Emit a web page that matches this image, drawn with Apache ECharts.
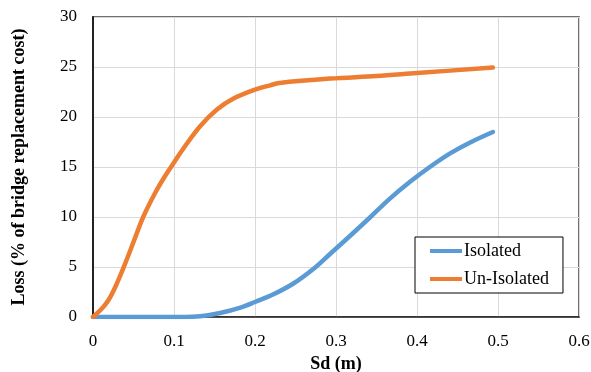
<!DOCTYPE html>
<html>
<head>
<meta charset="utf-8">
<script src="https://cdn.jsdelivr.net/npm/echarts@6/dist/echarts.min.js"></script>
<style>
html,body{margin:0;padding:0;background:#fff;}
#chart{width:591px;height:372px;}
</style>
</head>
<body>
<div id="chart"></div>
<script>
// Data
var seriesNames = ['Isolated', 'Un-Isolated'];
var xTicks = [0, 0.1, 0.2, 0.3, 0.4, 0.5, 0.6];
var yTicks = [0, 5, 10, 15, 20, 25, 30];

var sdIsolated   = [0, 0.108, 0.1325, 0.157, 0.182, 0.2, 0.2228, 0.2474, 0.272, 0.2926, 0.3172, 0.3419, 0.3665, 0.391, 0.4158, 0.4404, 0.465, 0.4937];
var lossIsolated = [0, 0, 0.07, 0.4, 0.94, 1.5, 2.27, 3.35, 4.8, 6.3, 8.1, 9.95, 11.84, 13.5, 15.0, 16.34, 17.43, 18.5];

var sdUnIsolated   = [0, 0.011, 0.019, 0.0275, 0.0377, 0.05, 0.062, 0.077, 0.089, 0.1, 0.112, 0.1325, 0.153, 0.1735, 0.2, 0.2187, 0.23, 0.2926, 0.35, 0.4, 0.4937];
var lossUnIsolated = [0, 0.84, 1.67, 3.0, 4.94, 7.5, 10.0, 12.45, 14.1, 15.45, 16.9, 19.1, 20.75, 21.85, 22.74, 23.17, 23.4, 23.84, 24.1, 24.4, 24.94];

function pairs(xs, ys) { return xs.map(function (x, i) { return [x, ys[i]]; }); }

var font = 'Liberation Serif';
var chart = echarts.init(document.getElementById('chart'), null, {renderer: 'canvas'});
chart.setOption({
  animation: false,
  backgroundColor: '#fff',
  grid: {left: 93, right: 12, top: 17, bottom: 55, containLabel: false, outerBoundsMode: 'none',
         show: true, borderColor: '#404040', borderWidth: 1.5, backgroundColor: 'transparent'},
  legend: {
    orient: 'vertical',
    left: 415, top: 237,
    padding: [5, 14, 5, 15],
    itemGap: 10,
    itemWidth: 32, itemHeight: 4,
    icon: 'rect',
    borderColor: '#000', borderWidth: 1,
    backgroundColor: '#fff',
    textStyle: {fontFamily: font, fontSize: 18, color: '#000', padding: [0, 0, 0, -3]},
    data: seriesNames
  },
  xAxis: {
    type: 'value', min: xTicks[0], max: xTicks[xTicks.length - 1], interval: 0.1,
    name: 'Sd (m)', nameLocation: 'middle', nameGap: 37,
    nameTextStyle: {fontFamily: font, fontSize: 18, fontWeight: 'bold', color: '#000'},
    axisLine: {show: true, lineStyle: {color: '#222', width: 1.5}},
    axisTick: {show: false},
    axisLabel: {fontFamily: font, fontSize: 17, color: '#000', margin: 16},
    splitLine: {show: true, lineStyle: {color: '#d9d9d9', width: 1}}
  },
  yAxis: {
    type: 'value', min: yTicks[0], max: yTicks[yTicks.length - 1], interval: 5,
    name: 'Loss (% of bridge replacement cost)', nameLocation: 'middle', nameGap: 65,
    nameTextStyle: {fontFamily: font, fontSize: 18, fontWeight: 'bold', color: '#000'},
    axisLine: {show: true, lineStyle: {color: '#222', width: 2}},
    axisTick: {show: false},
    axisLabel: {fontFamily: font, fontSize: 17, color: '#000', margin: 16},
    splitLine: {show: true, lineStyle: {color: '#d9d9d9', width: 1}}
  },
  series: [
    {name: seriesNames[0], type: 'line', data: pairs(sdIsolated, lossIsolated), showSymbol: false, smooth: 0.35,
     lineStyle: {color: '#5B9BD5', width: 4.5, cap: 'round', join: 'round'}, itemStyle: {color: '#5B9BD5'}, z: 3},
    {name: seriesNames[1], type: 'line', data: pairs(sdUnIsolated, lossUnIsolated), showSymbol: false, smooth: 0.35,
     lineStyle: {color: '#ED7D31', width: 4.5, cap: 'round', join: 'round'}, itemStyle: {color: '#ED7D31'}, z: 4}
  ]
});
</script>
</body>
</html>
